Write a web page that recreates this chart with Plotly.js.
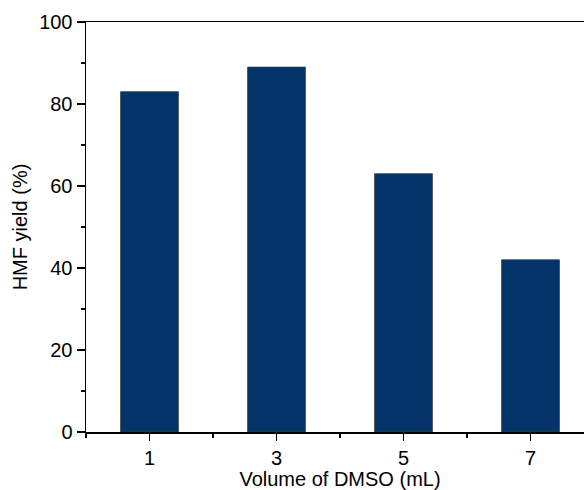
<!DOCTYPE html>
<html>
<head>
<meta charset="utf-8">
<script src="https://cdn.plot.ly/plotly-3.0.1.min.js"></script>
<style>
html,body{margin:0;padding:0;overflow:hidden;background:#fff;}
#chart{width:600px;height:490px;}
</style>
</head>
<body>
<div id="chart"></div>
<script>
const volumes = [1, 3, 5, 7];
const hmfYield = [83, 89, 63, 42];
const xTickLabels = ['1', '3', '5', '7'];

const trace = {
  type: 'bar',
  x: volumes,
  y: hmfYield,
  width: 0.91,
  marker: {color: '#03346A', line: {color: '#3a3a3a', width: 0.8}},
  hoverinfo: 'x+y'
};

const font = {family: '"Liberation Sans", Arial, sans-serif', size: 20, color: '#000'};

const layout = {
  width: 600,
  height: 490,
  margin: {l: 86, r: 6, t: 22, b: 58},
  paper_bgcolor: '#fff',
  plot_bgcolor: '#fff',
  font: font,
  showlegend: false,
  xaxis: {
    range: [0, 8],
    tickmode: 'array',
    tickvals: volumes,
    ticktext: xTickLabels,
    ticks: 'outside',
    ticklen: 7,
    tickwidth: 1.3,
    tickcolor: '#000',
    minor: {dtick: 1, tick0: 0, ticks: 'outside', ticklen: 4, tickwidth: 1.3, tickcolor: '#000'},
    showline: true,
    linecolor: '#000',
    linewidth: 1.5,
    mirror: true,
    showgrid: false,
    zeroline: false,
    tickfont: font,
    title: {text: 'Volume of DMSO (mL)', font: font, standoff: 2}
  },
  yaxis: {
    range: [0, 100],
    dtick: 20,
    tick0: 0,
    ticks: 'outside',
    ticklen: 8,
    tickwidth: 1.3,
    tickcolor: '#000',
    minor: {dtick: 10, tick0: 0, ticks: 'outside', ticklen: 4, tickwidth: 1.3, tickcolor: '#000'},
    showline: true,
    linecolor: '#000',
    linewidth: 1.5,
    mirror: true,
    showgrid: false,
    zeroline: false,
    tickfont: font,
    title: {text: 'HMF yield (%)', font: font, standoff: 6}
  }
};

Plotly.newPlot('chart', [trace], layout, {displayModeBar: false, staticPlot: true});
</script>
</body>
</html>
